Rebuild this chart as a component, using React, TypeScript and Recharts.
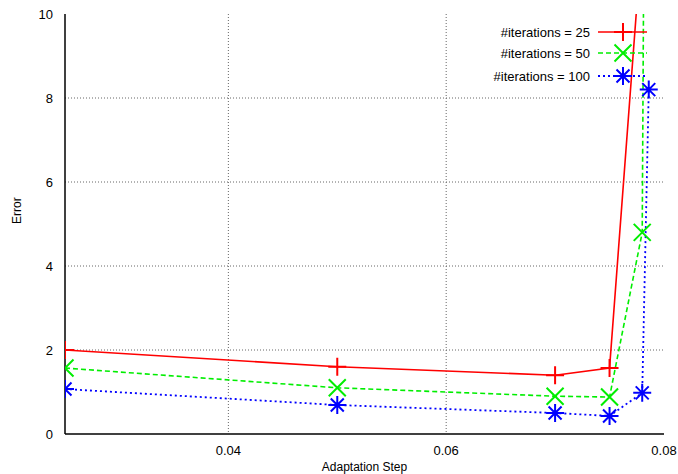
import {
  LineChart,
  Line,
  XAxis,
  YAxis,
  CartesianGrid,
} from 'recharts';

// adaptation step values per series
const steps25 = [0.025, 0.05, 0.07, 0.075, 0.078];
const steps50 = [0.025, 0.05, 0.07, 0.075, 0.078, 0.0782];
const steps100 = [0.025, 0.05, 0.07, 0.075, 0.078, 0.0786];

const error25 = [2.0, 1.6, 1.4, 1.57, 11.9];
const error50 = [1.57, 1.1, 0.9, 0.88, 4.8, 14];
const error100 = [1.07, 0.69, 0.5, 0.43, 0.98, 8.2];

const xTicks = [0.04, 0.06, 0.08];
const yTicks = [0, 2, 4, 6, 8, 10];

const FONT = '"Liberation Sans", Arial, sans-serif';

const toPoints = (xs: number[], ys: number[]) =>
  xs.map((step, i) => ({ step, error: ys[i] }));

type MarkerKind = 'plus' | 'cross' | 'star';

const series = [
  { name: '#iterations = 25', color: '#ff0000', dash: undefined, width: 1.6, marker: 'plus' as MarkerKind, data: toPoints(steps25, error25) },
  { name: '#iterations = 50', color: '#00ee00', dash: '5 3', width: 1.6, marker: 'cross' as MarkerKind, data: toPoints(steps50, error50) },
  { name: '#iterations = 100', color: '#0000ff', dash: '2 3', width: 1.8, marker: 'star' as MarkerKind, data: toPoints(steps100, error100) },
];

function Marker({ cx, cy, kind, color }: { cx: number; cy: number; kind: MarkerKind; color: string }) {
  const s = 9;
  const parts: string[] = [];
  if (kind === 'plus' || kind === 'star') {
    parts.push(`M${cx - s},${cy}L${cx + s},${cy}M${cx},${cy - s}L${cx},${cy + s}`);
  }
  if (kind === 'cross' || kind === 'star') {
    const k = kind === 'star' ? 6.5 : 8.5;
    parts.push(`M${cx - k},${cy - k}L${cx + k},${cy + k}M${cx - k},${cy + k}L${cx + k},${cy - k}`);
  }
  return <path d={parts.join('')} stroke={color} strokeWidth={2} fill="none" />;
}

function makeDot(kind: MarkerKind, color: string) {
  return (props: any) => {
    const { cx, cy, index } = props;
    if (cx == null || cy == null) return <g key={index} />;
    return (
      <g key={index}>
        <Marker cx={cx} cy={cy} kind={kind} color={color} />
      </g>
    );
  };
}

// gnuplot-style key drawn over the top right of the plot
function IterLegend() {
  const rows = [11, 32, 55];
  return (
    <svg width={270} height={70} style={{ position: 'absolute', left: 390, top: 21, overflow: 'visible' }}>
      {series.map((s, i) => (
        <g key={s.name}>
          <text
            x={200}
            y={rows[i]}
            dy="0.35em"
            textAnchor="end"
            fontFamily={FONT}
            fontSize={13}
            fill="#000"
          >
            {s.name}
          </text>
          <line
            x1={208}
            x2={257}
            y1={rows[i]}
            y2={rows[i]}
            stroke={s.color}
            strokeWidth={s.width}
            strokeDasharray={s.dash}
          />
          <Marker cx={233} cy={rows[i]} kind={s.marker} color={s.color} />
        </g>
      ))}
    </svg>
  );
}

export default function App() {
  return (
    <div style={{ position: 'absolute', left: 0, top: 0, width: 678, height: 474, background: '#fff' }}>
      <LineChart
        width={678}
        height={474}
        margin={{ top: 14, right: 14, left: 0, bottom: 0 }}
      >
        <CartesianGrid
          stroke="#666"
          strokeDasharray="1 2"
          horizontalValues={[2, 4, 6, 8]}
          verticalValues={[0.04, 0.06]}
        />
        <XAxis
          dataKey="step"
          type="number"
          domain={[0.025, 0.08]}
          ticks={xTicks}
          allowDataOverflow
          height={40}
          axisLine={{ stroke: '#000', strokeWidth: 1.5 }}
          tickLine={false}
          tick={{ fontSize: 13, fill: '#000', fontFamily: FONT }}
          tickMargin={6}
          label={{ value: 'Adaptation Step', position: 'insideBottom', offset: 3, fontSize: 12, fill: '#000', fontFamily: FONT }}
        />
        <XAxis
          xAxisId="top"
          orientation="top"
          type="number"
          domain={[0.025, 0.08]}
          height={0}
          tick={false}
          tickLine={false}
          axisLine={{ stroke: '#000', strokeWidth: 1.5 }}
        />
        <YAxis
          type="number"
          domain={[0, 10]}
          ticks={yTicks}
          allowDataOverflow
          width={65}
          axisLine={{ stroke: '#000', strokeWidth: 1.5 }}
          tickLine={false}
          tick={{ fontSize: 13, fill: '#000', fontFamily: FONT }}
          tickMargin={6}
          label={{ value: 'Error', angle: -90, position: 'insideLeft', offset: 17, fontSize: 12, fill: '#000', fontFamily: FONT }}
        />
        <YAxis
          yAxisId="right"
          orientation="right"
          type="number"
          domain={[0, 10]}
          width={0}
          tick={false}
          tickLine={false}
          axisLine={{ stroke: '#000', strokeWidth: 1.5 }}
        />
        {series.map((s) => (
          <Line
            key={s.name}
            data={s.data}
            dataKey="error"
            name={s.name}
            type="linear"
            stroke={s.color}
            strokeWidth={s.width}
            strokeDasharray={s.dash}
            dot={makeDot(s.marker, s.color)}
            activeDot={false}
            isAnimationActive={false}
          />
        ))}
      </LineChart>
      <IterLegend />
    </div>
  );
}
